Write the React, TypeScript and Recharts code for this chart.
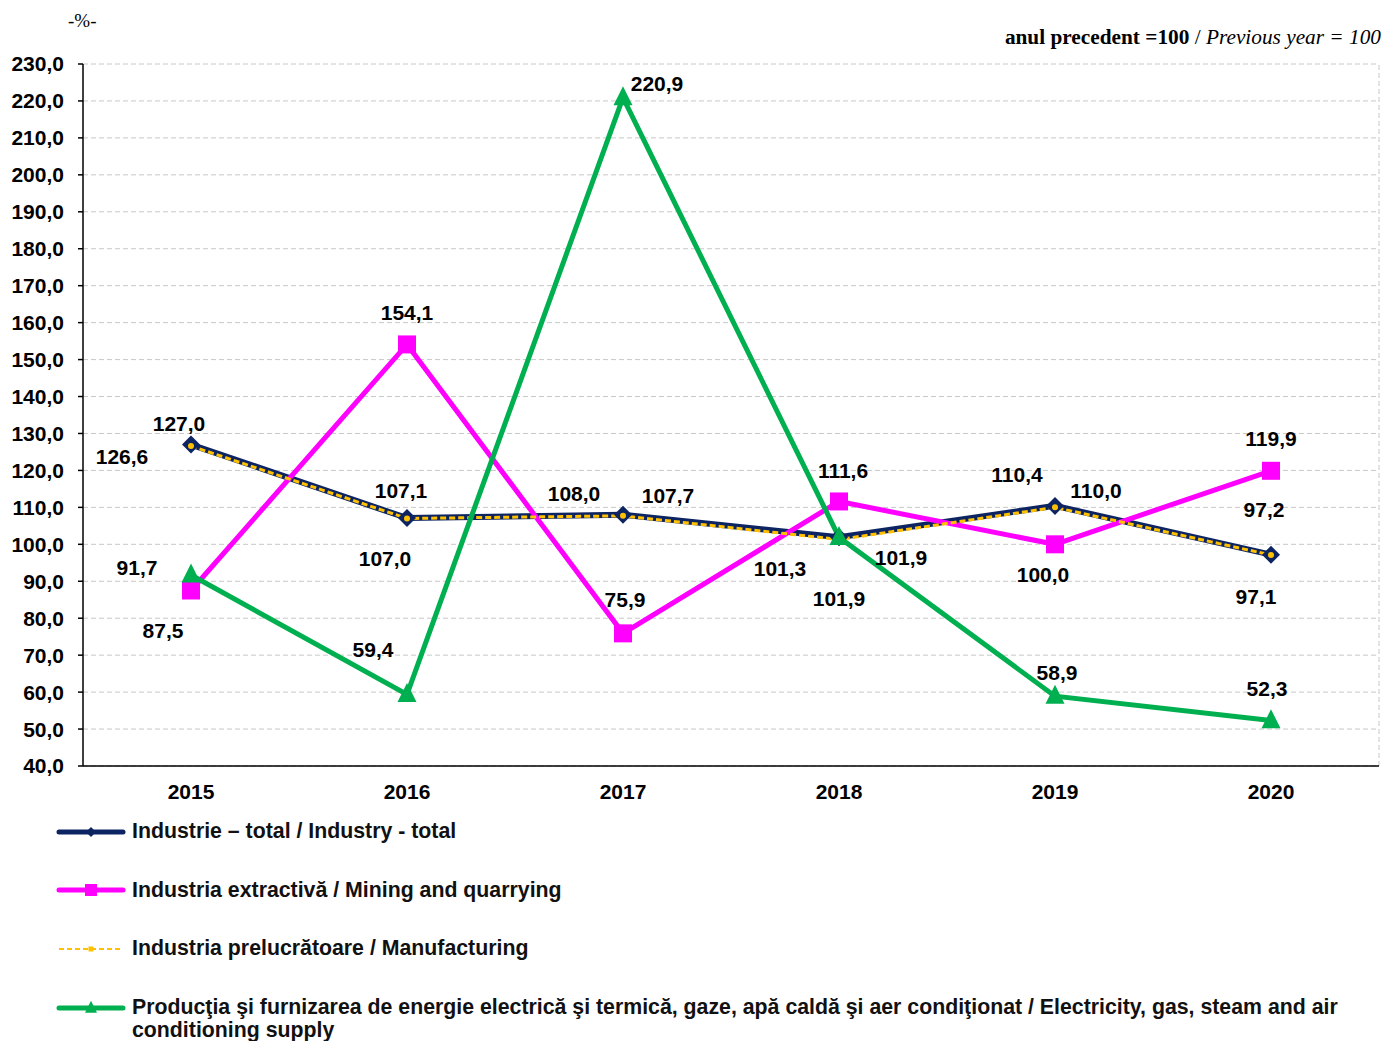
import React from "react";
import {
  LineChart, Line, XAxis, YAxis, CartesianGrid, ReferenceLine,
} from "recharts";

const YEARS = ["2015", "2016", "2017", "2018", "2019", "2020"];
const INDUSTRY_TOTAL = [127.0, 107.1, 108.0, 101.9, 110.4, 97.2];
const MANUFACTURING = [126.6, 107.0, 107.7, 101.3, 110.0, 97.1];
const MINING = [87.5, 154.1, 75.9, 111.6, 100.0, 119.9];
const ENERGY = [91.7, 59.4, 220.9, 101.9, 58.9, 52.3];
const Y_TICKS = [40, 50, 60, 70, 80, 90, 100, 110, 120, 130, 140, 150, 160, 170, 180, 190, 200, 210, 220, 230];

// label nudges (dx, dy) so the value labels sit where the original puts them
const TOTAL_OFF = [[-12, -21], [-6, -28], [-49, -21], [62, 20], [-38, -31], [-7, -45]];
const MANUF_OFF = [[-69, 10], [-22, 40], [45, -20], [-59, 29], [41, -17], [-15, 41]];
const MINING_OFF = [[-28, 40], [0, -32], [2, -34], [4, -31], [-12, 30], [0, -32]];
const ENERGY_OFF = [[-54, -7], [-34, -45], [34, -14], [0, 61], [2, -24], [-4, -32]];

const NAVY = "#0C2461";
const MAGENTA = "#FF00FF";
const YELLOW = "#FFC000";
const GREEN = "#00B050";
const FONT = "Arial, 'Liberation Sans', sans-serif";
const SERIF = "'Liberation Serif', 'Times New Roman', serif";

const data = YEARS.map((year, i) => ({
  year,
  pos: i + 0.5,
  total: INDUSTRY_TOTAL[i],
  manuf: MANUFACTURING[i],
  mining: MINING[i],
  energy: ENERGY[i],
}));

const fmt = (v: number) => v.toFixed(1).replace(".", ",");

const makeLabel = (offsets: number[][]) => (props: any) => {
  const { x, y, value, index } = props;
  const [dx, dy] = offsets[index] || [0, 0];
  return (
    <text
      key={`l-${index}`}
      x={x + dx}
      y={y + dy}
      textAnchor="middle"
      dominantBaseline="central"
      fontFamily={FONT}
      fontWeight="bold"
      fontSize={21}
      fill="#000"
    >
      {fmt(value)}
    </text>
  );
};

const diamond = (cx: number, cy: number, r: number, color: string, key?: string) => (
  <polygon key={key} points={`${cx},${cy - r} ${cx + r},${cy} ${cx},${cy + r} ${cx - r},${cy}`} fill={color} />
);
const square = (cx: number, cy: number, s: number, color: string, key?: string) => (
  <rect key={key} x={cx - s / 2} y={cy - s / 2} width={s} height={s} fill={color} />
);
const triangle = (cx: number, cy: number, s: number, color: string, key?: string) => (
  <polygon key={key} points={`${cx},${cy - s * 0.6} ${cx + s / 2},${cy + s * 0.4} ${cx - s / 2},${cy + s * 0.4}`} fill={color} />
);

const LEGEND = [
  { text: "Industrie – total / Industry - total", color: NAVY, width: 5, dash: undefined, marker: "diamond" },
  { text: "Industria extractivă / Mining and quarrying", color: MAGENTA, width: 5, dash: undefined, marker: "square" },
  { text: "Industria prelucrătoare / Manufacturing", color: YELLOW, width: 2, dash: "5 3", marker: "small" },
  {
    text: "Producţia şi furnizarea de energie electrică şi termică, gaze, apă caldă şi aer condiţionat / Electricity, gas, steam and air conditioning supply",
    color: GREEN, width: 5, dash: undefined, marker: "triangle",
  },
];

function LegendSample({ color, width, dash, marker }: any) {
  return (
    <svg width={70} height={20} style={{ display: "block" }}>
      <line x1={3} y1={10} x2={67} y2={10} stroke={color} strokeWidth={width} strokeDasharray={dash} strokeLinecap={dash ? "butt" : "round"} />
      {marker === "diamond" && diamond(35, 10, 5, color)}
      {marker === "square" && square(35, 10, 12, color)}
      {marker === "small" && square(35, 10, 5, color)}
      {marker === "triangle" && triangle(35, 10, 12, color)}
    </svg>
  );
}

export default function App() {
  return (
    <div style={{ position: "absolute", left: 0, top: 0, width: 1384, height: 1041, background: "#fff", overflow: "hidden" }}>
      <div style={{ position: "absolute", left: 68, top: 10, fontFamily: SERIF, fontSize: 19, whiteSpace: "pre" }}>
        -%-
      </div>
      <div style={{ position: "absolute", right: 3, top: 25, fontFamily: SERIF, fontSize: 21.3, whiteSpace: "nowrap" }}>
        <b>anul precedent =100</b> / <i>Previous year = 100</i>
      </div>

      <LineChart width={1384} height={1041} data={data} margin={{ top: 64, right: 5, left: 0, bottom: 229 }}>
        <CartesianGrid vertical={false} stroke="#C8C8C8" strokeDasharray="5 3" />
        <ReferenceLine xAxisId="grid" x={6} stroke="#C8C8C8" strokeDasharray="5 3" />
        <XAxis
          xAxisId="grid"
          type="number"
          dataKey="pos"
          domain={[0, 6]}
          ticks={[0, 1, 2, 3, 4, 5, 6]}
          tick={false}
          tickSize={6}
          height={6}
          axisLine={{ stroke: "#000", strokeWidth: 1.5 }}
          tickLine={{ stroke: "#000", strokeWidth: 1.5 }}
        />
        <XAxis
          xAxisId="years"
          type="number"
          dataKey="pos"
          domain={[0, 6]}
          ticks={[0.5, 1.5, 2.5, 3.5, 4.5, 5.5]}
          tickFormatter={(v: number) => YEARS[Math.floor(v)]}
          axisLine={false}
          tickLine={false}
          tickMargin={6}
          height={40}
          tick={{ fill: "#000", fontFamily: FONT, fontWeight: "bold", fontSize: 21 }}
        />
        <YAxis
          domain={[40, 230]}
          ticks={Y_TICKS}
          interval={0}
          width={83}
          tickSize={5}
          tickMargin={14}
          tickFormatter={fmt}
          axisLine={{ stroke: "#000", strokeWidth: 1.5 }}
          tickLine={{ stroke: "#000", strokeWidth: 1.5 }}
          tick={{ fill: "#000", fontFamily: FONT, fontWeight: "bold", fontSize: 21 }}
        />
        <Line
          xAxisId="grid"
          dataKey="total"
          stroke={NAVY}
          strokeWidth={6}
          isAnimationActive={false}
          dot={(p: any) => diamond(p.cx, p.cy, 9, NAVY, `t-${p.index}`)}
          activeDot={false}
          label={makeLabel(TOTAL_OFF)}
        />
        <Line
          xAxisId="grid"
          dataKey="mining"
          stroke={MAGENTA}
          strokeWidth={5}
          isAnimationActive={false}
          dot={(p: any) => square(p.cx, p.cy, 18, MAGENTA, `q-${p.index}`)}
          activeDot={false}
          label={makeLabel(MINING_OFF)}
        />
        <Line
          xAxisId="grid"
          dataKey="manuf"
          stroke={YELLOW}
          strokeWidth={3}
          strokeDasharray="6 3"
          isAnimationActive={false}
          dot={(p: any) => <circle key={`m-${p.index}`} cx={p.cx} cy={p.cy} r={3} fill={YELLOW} />}
          activeDot={false}
          label={makeLabel(MANUF_OFF)}
        />
        <Line
          xAxisId="grid"
          dataKey="energy"
          stroke={GREEN}
          strokeWidth={5}
          isAnimationActive={false}
          dot={(p: any) => triangle(p.cx, p.cy, 19, GREEN, `e-${p.index}`)}
          activeDot={false}
          label={makeLabel(ENERGY_OFF)}
        />
      </LineChart>

      <div style={{ position: "absolute", left: 56, top: 820, fontFamily: FONT, fontWeight: "bold", fontSize: 21.3, color: "#111" }}>
        {LEGEND.map((item, i) => (
          <div key={i} style={{ display: "flex", alignItems: "flex-start", height: i < 3 ? 58.7 : "auto", width: 1320 }}>
            <div style={{ marginTop: 1.5 }}>
              <LegendSample {...item} />
            </div>
            <div style={{ marginLeft: 6, lineHeight: "23px", width: 1240 }}>{item.text}</div>
          </div>
        ))}
      </div>
    </div>
  );
}
